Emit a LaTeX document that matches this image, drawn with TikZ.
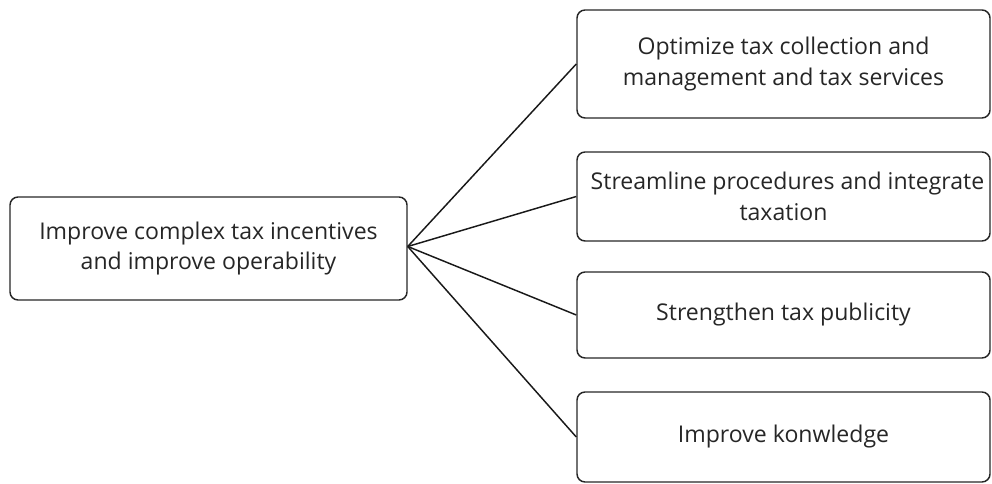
\documentclass[tikz,border=0pt]{standalone}
\usepackage{fontspec}
\setmainfont{Open Sans}
\begin{document}
\begin{tikzpicture}[x=0.75pt,y=-0.75pt,
  box/.style={draw=black!85, line width=1.1pt, rounded corners=6pt, align=center, inner sep=0pt,
    font=\fontsize{17.3pt}{23pt}\selectfont, text=black!85},
  link/.style={draw=black!90, line width=1.1pt}]
\useasboundingbox (0,0) rectangle (992,484);
\node[box, minimum width=397*0.75pt, minimum height=103*0.75pt] (root) at (208.5,248.5) {Improve complex tax incentives\\and improve operability};
\node[box, minimum width=413*0.75pt, minimum height=108*0.75pt] (b1) at (783.5,64) {Optimize tax collection and\\management and tax services};
\node[box, minimum width=413*0.75pt, minimum height=89*0.75pt] (b2) at (783.5,196.5) {\hspace*{6pt}Streamline procedures and integrate\\taxation};
\node[box, minimum width=413*0.75pt, minimum height=86*0.75pt] (b3) at (783.5,315) {Strengthen tax publicity};
\node[box, minimum width=413*0.75pt, minimum height=90*0.75pt] (b4) at (783.5,437) {Improve konwledge};
\coordinate (hub) at ([yshift=1.5pt]root.east);
\foreach \b in {b1,b2,b3,b4} \draw[link] (hub) -- (\b.west);
\end{tikzpicture}
\end{document}
